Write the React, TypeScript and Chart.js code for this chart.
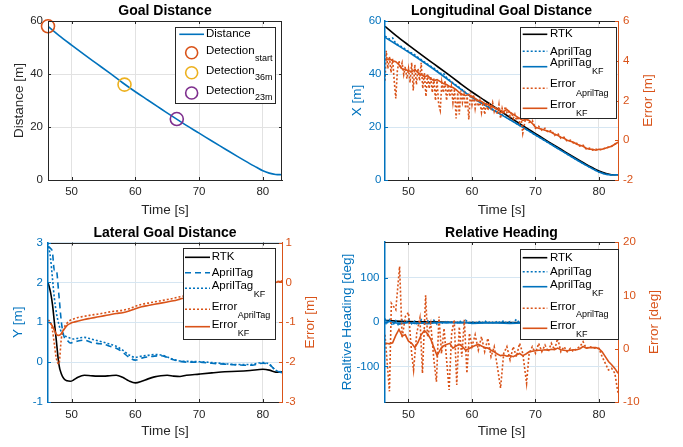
import React, { useEffect, useRef } from 'react';
import { Chart, registerables } from 'chart.js';
Chart.register(...registerables);

const FONT = '"Liberation Sans", Arial, Helvetica, sans-serif';
const BLUE = '#0072BD';
const ORANGE = '#D95319';
const YELLOW = '#EDB120';
const PURPLE = '#7E2F8E';
const BLACK = '#000000';
const AXIS = '#262626';
const GRID = '#e2e2e2';
const GRID_BLUE = '#d6e6f2';

// ---------- shared x axis ----------
const X_MIN = 46.3;
const X_MAX = 83;
const X_TICKS = [50, 60, 70, 80];

// ---------- time grids ----------
const T1 = [46.3, 48, 50, 52, 54, 56, 58, 60, 62, 64, 66, 68, 70, 72, 74, 76, 78, 79, 80, 81, 82, 83];
const T_HALF = [46.3, 46.5, 47, 47.5, 48, 48.5, 49, 49.5, 50, 50.5, 51, 51.5, 52, 52.5, 53, 53.5, 54, 54.5, 55, 55.5, 56, 56.5, 57, 57.5, 58, 58.5, 59, 59.5, 60, 60.5, 61, 61.5, 62, 62.5, 63, 63.5, 64, 64.5, 65, 65.5, 66, 66.5, 67, 67.5, 68, 68.5, 69, 69.5, 70, 70.5, 71, 71.5, 72, 72.5, 73, 73.5, 74, 74.5, 75, 75.5, 76, 76.5, 77, 77.5, 78, 78.5, 79, 79.5, 80, 80.5, 81, 81.5, 82, 82.5, 83];

// ---------- Panel 1: Goal Distance ----------
const P1_DISTANCE = [58.0, 54.6, 50.9, 47.3, 43.8, 40.3, 36.7, 33.3, 30.1, 26.9, 23.7, 20.6, 17.7, 14.7, 11.8, 8.9, 6.1, 4.8, 3.5, 2.6, 2.1, 2.0];
const P1_DETECT_T = [46.3, 58.3, 66.5];
const P1_DETECT_D = [58.0, 36.0, 23.0];
const P1_Y_TICKS = [0, 20, 40, 60];

// ---------- Panel 2: Longitudinal ----------
const P2_RTK = [58.0, 54.6, 50.9, 47.3, 43.8, 40.3, 36.7, 33.2, 30.0, 26.8, 23.6, 20.5, 17.5, 14.5, 11.6, 8.7, 5.9, 4.6, 3.4, 2.5, 2.0, 2.0];
const P2_KF = [53.8, 51.3, 48.3, 45.1, 41.8, 38.3, 34.7, 31.2, 28.3, 25.5, 22.7, 19.9, 17.0, 14.1, 11.2, 8.3, 5.5, 4.2, 3.0, 2.2, 1.9, 2.0];
const P2_AT_T = [46.3, 47, 47.5, 48, 49, 50, 50.5, 51, 52, 53, 54, 55, 55.5, 56, 57, 58, 59, 60, 61, 62, 63, 64, 65, 66, 67, 68, 70, 72, 74, 76, 78, 80, 81, 82, 83];
const P2_AT = [54.3, 53.2, 53.6, 51.6, 50.2, 48.5, 47.9, 47.2, 45.4, 43.7, 42.2, 40.2, 40.3, 38.6, 36.6, 34.9, 33.0, 31.3, 29.9, 28.4, 27.0, 25.6, 24.2, 22.8, 21.3, 19.9, 17.0, 14.1, 11.2, 8.3, 5.5, 3.0, 2.2, 1.9, 2.0];
const P2_ERR_AT_T = [46.3, 46.5, 46.75, 47.0, 47.25, 47.5, 47.75, 48.0, 48.25, 48.5, 48.75, 49.0, 49.25, 49.5, 49.75, 50.0, 50.25, 50.5, 50.75, 51.0, 51.25, 51.5, 51.75, 52.0, 52.25, 52.5, 52.75, 53.0, 53.25, 53.5, 53.75, 54.0, 54.25, 54.5, 54.75, 55.0, 55.25, 55.5, 55.75, 56.0, 56.25, 56.5, 56.75, 57.0, 57.25, 57.5, 57.75, 58.0, 58.25, 58.5, 58.75, 59.0, 59.25, 59.5, 59.75, 60.0, 60.25, 60.5, 60.75, 61.0, 61.25, 61.5, 61.75, 62.0, 62.25, 62.5, 62.75, 63.0, 63.25, 63.5, 63.75, 64.0, 64.25, 64.5, 64.75, 65.0, 65.25, 65.5, 65.75, 66.0, 66.25, 66.5, 66.75, 67.0, 67.25, 67.5, 67.75, 68.0, 68.5, 69, 69.5, 70, 70.5, 71, 71.5, 72, 72.5, 73, 73.5, 74, 74.5, 75, 75.5, 76, 76.5, 77, 77.5, 78, 78.5, 79, 79.5, 80, 80.5, 81, 81.5, 82, 82.5, 83];
const P2_ERR_AT = [3.0, 4.5, 3.6, 4.2, 3.4, 4.1, 3.0, 2.1, 3.5, 4.0, 3.6, 3.9, 3.3, 3.7, 3.1, 3.6, 2.9, 3.9, 2.5, 3.8, 2.8, 3.6, 3.0, 3.9, 2.6, 3.4, 2.2, 3.3, 2.6, 3.2, 2.4, 3.1, 2.0, 3.0, 1.8, 1.5, 2.9, 2.4, 3.0, 2.0, 2.8, 2.2, 2.7, 1.9, 2.6, 1.1, 2.4, 1.3, 2.5, 1.9, 2.3, 1.6, 2.2, 1.05, 2.4, 1.8, 2.3, 1.6, 2.1, 1.7, 2.0, 1.4, 1.9, 1.3, 1.9, 1.5, 1.8, 1.6, 1.9, 1.45, 1.7, 1.3, 1.8, 1.1, 1.6, 1.3, 1.7, 1.4, 1.5, 1.2, 1.4, 1.1, 1.3, 1.0, 1.2, 0.9, 1.1, 0.35, 1.2, 0.9, 1.0, 0.6, 0.7, 0.5, 0.6, 0.4, 0.5, 0.25, 0.35, 0.1, 0.15, -0.05, 0.0, -0.15, -0.15, -0.3, -0.25, -0.45, -0.4, -0.5, -0.45, -0.5, -0.45, -0.4, -0.35, -0.3, -0.2, -0.1];
const P2_ERR_KF = [4.1, 4.05, 4.1, 4.0, 3.95, 3.8, 3.6, 3.55, 3.5, 3.45, 3.55, 3.4, 3.3, 3.2, 3.25, 3.1, 3.0, 3.05, 2.95, 2.85, 2.8, 2.7, 2.65, 2.55, 2.4, 2.3, 2.25, 2.3, 2.2, 2.1, 2.0, 1.95, 1.85, 1.8, 1.7, 1.65, 1.55, 1.5, 1.45, 1.55, 1.4, 1.3, 1.2, 1.1, 1.0, 1.05, 1.0, 0.85, 0.65, 0.6, 0.55, 0.5, 0.45, 0.4, 0.3, 0.25, 0.15, 0.1, 0.0, -0.05, -0.1, -0.2, -0.25, -0.3, -0.4, -0.45, -0.45, -0.5, -0.45, -0.45, -0.4, -0.35, -0.3, -0.2, -0.1];
const P2_YL_TICKS = [0, 20, 40, 60];
const P2_YR_TICKS = [-2, 0, 2, 4, 6];

// ---------- Panel 3: Lateral ----------
const T3 = [46.3, 46.7, 47.0, 47.3, 47.6, 48.0, 48.4, 48.8, 49.3, 49.8, 50.3, 51, 52, 53, 54, 55, 56, 57, 58, 59, 60, 61, 62, 63, 64, 65, 66, 67, 68, 70, 72, 74, 76, 78, 80, 81, 82, 83];
const P3_RTK = [2.0, 1.75, 1.45, 1.0, 0.55, -0.05, -0.3, -0.42, -0.47, -0.48, -0.45, -0.38, -0.33, -0.34, -0.35, -0.35, -0.34, -0.33, -0.38, -0.47, -0.52, -0.48, -0.42, -0.37, -0.34, -0.33, -0.35, -0.36, -0.33, -0.3, -0.27, -0.24, -0.23, -0.21, -0.18, -0.2, -0.25, -0.24];
const P3_AT = [2.9, 2.85, 2.75, 2.3, 2.3, 1.7, 1.0, 0.65, 0.55, 0.48, 0.5, 0.53, 0.55, 0.5, 0.47, 0.45, 0.4, 0.35, 0.25, 0.12, 0.05, 0.1, 0.13, 0.15, 0.16, 0.12, 0.06, 0.02, 0.0, 0.0, -0.03, -0.05, -0.07, -0.08, -0.03, -0.06, -0.2, -0.27];
const P3_KF = [3.0, 2.6, 2.1, 1.6, 1.25, 0.95, 0.75, 0.68, 0.63, 0.6, 0.58, 0.6, 0.62, 0.58, 0.54, 0.5, 0.45, 0.4, 0.3, 0.18, 0.12, 0.15, 0.17, 0.19, 0.18, 0.13, 0.07, 0.03, 0.02, 0.01, -0.01, -0.04, -0.06, -0.06, -0.01, -0.05, -0.2, -0.25];
const P3_ERR_KF = [-1.0, -1.03, -1.1, -1.2, -1.3, -1.33, -1.28, -1.18, -1.08, -1.03, -1.0, -0.97, -0.93, -0.9, -0.87, -0.84, -0.81, -0.78, -0.76, -0.72, -0.66, -0.61, -0.58, -0.55, -0.52, -0.49, -0.46, -0.42, -0.38, -0.33, -0.28, -0.23, -0.18, -0.12, -0.07, -0.04, 0.0, 0.03];
const P3_ERR_AT = [-0.95, -1.0, -1.2, -1.55, -1.9, -2.05, -1.4, -1.15, -1.02, -0.95, -0.92, -0.88, -0.85, -0.82, -0.8, -0.77, -0.74, -0.72, -0.7, -0.66, -0.6, -0.55, -0.52, -0.49, -0.46, -0.43, -0.4, -0.36, -0.33, -0.29, -0.25, -0.2, -0.15, -0.1, -0.06, -0.03, 0.01, 0.04];
const P3_YL_TICKS = [-1, 0, 1, 2, 3];
const P3_YR_TICKS = [-3, -2, -1, 0, 1];

// ---------- Panel 4: Relative Heading ----------
const P4_RTK_T = [46.3, 48, 50, 55, 60, 65, 70, 75, 80, 81, 82, 83];
const P4_RTK = [4, 2, 1, 0, -1, -1, -1, -1.5, -2, -3, -3.5, -4];
const P4_KF_T = [46.3, 47, 48, 49, 50, 51, 52, 53, 54, 55, 56, 57, 58, 59, 60, 62, 64, 66, 68, 70, 72, 74, 76, 78, 80, 82, 83];
const P4_KF = [3, 1, -2, -3, -1, -3, -2, -4, -2, -1, -2, -1, -2, -1, -3, -2, -2, -3, -2, -2, -3, -2, -2, -3, -3, -3, -4];
const P4_AT = [8, -6, 5, -8, 3, -9, 4, -5, 6, -4, 2, -7, 5, -6, 3, -3, 4, -5, 2, -4, 3, -3, 2, -4, 3, -3, 4, -2, 1, -4, 2, -3, 3, -2, 1, -3, 2, -2, 3, -3, 1, -2, 6, -2, 2, -3, 1, -2, 2, -3, 1, -2, 2, -2, 1, -3, 1, -2, 1, -3, 0, -2, 1, -3, 0, -2, 0, -3, -1, -3, -2, -4, -3, -4, -5];
const P4_ERR_AT_T = [46.3, 47.0, 47.3, 48.0, 48.6, 49.0, 49.5, 50.0, 50.5, 50.8, 51.3, 51.8, 52.2, 52.7, 53.0, 53.5, 54.0, 54.4, 54.8, 55.2, 55.6, 56.0, 56.4, 56.8, 57.2, 57.6, 58.0, 58.4, 58.8, 59.2, 59.6, 60.0, 60.5, 61.0, 61.5, 62.0, 62.5, 63.0, 63.5, 64.0, 64.5, 65.0, 65.5, 66.0, 66.5, 67.0, 67.5, 68.0, 68.6, 69.0, 69.5, 70.0, 70.5, 71.0, 71.5, 72.0, 72.5, 73.0, 73.5, 74.0, 74.5, 75.0, 75.5, 76.0, 76.5, 77.0, 77.5, 78.0, 78.5, 79.0, 79.5, 80.0, 80.5, 81.0, 81.5, 82.0, 82.5, 83.0];
const P4_ERR_AT = [2.6, -8, 8.5, 7.3, 15.4, 2.0, 6.0, 6.8, -0.9, -4, 2.9, 5.75, -4.6, 10, 2.2, 4.75, -2.1, -6.2, 6, -0.9, 3.8, -2.1, -7.75, 2.9, 5.4, -6.8, 4.1, -1.5, 5.4, -4.6, 2.9, 0.4, 2.6, -0.25, 2.25, -0.56, 1.94, -1.5, 0.37, -3.4, -7.4, -0.87, 0.37, -2.1, 0.37, -1.5, 1.0, -0.87, -6.5, -0.87, 0.37, -0.87, 1.0, -0.56, 0.69, -0.56, 1.0, -0.25, 1.94, -0.56, 0.37, -0.56, 0.06, -0.56, 0.06, 0.37, 1.31, 0.06, 0.37, 0.19, 0.06, 0.06, -1.5, -2.75, -4, -3.7, -4.6, -8.3];
const P4_ERR_KF = [1.0, 1.0, 0.9, 1.1, 2.5, 3.6, 2.4, 2.6, 1.4, 1.0, 0.2, 1.2, 2.6, 3.4, 2.8, 1.8, 0.2, -1.3, -0.2, 0.5, 0.8, 1.0, 0.1, 0.5, 0.8, 0.4, -0.3, 0.0, 0.3, 0.6, 0.8, 0.5, 0.2, 0.1, -0.3, -0.6, -1.0, -1.3, -1.2, -1.4, -1.3, -1.5, -1.2, -0.9, -1.3, -1.0, -0.6, -0.5, -0.4, -0.3, -0.3, -0.2, -0.3, -0.1, -0.2, 0.1, -0.2, -0.3, -0.4, -0.3, -0.2, -0.2, 0.0, 0.4, 0.1, 0.2, 0.2, 0.2, 0.0, -0.6, -1.5, -2.4, -3.0, -3.7, -4.6];
const P4_YL_TICKS = [-100, 0, 100];
const P4_YR_TICKS = [-10, 0, 10, 20];

// ---------- layout / style ----------
const TICK_SIZE = 11.5;
const LABEL_SIZE = 13.5;
const TITLE_SIZE = 14;
const LH = 1.2;
const DOT = [2, 2];
const DASH = [6, 4];

const PANELS: any[] = [
  {
    canvas: { x: 0, y: 0, w: 341, h: 223 },
    area: { l: 48, t: 21, r: 282, b: 180 },
    title: 'Goal Distance', titleY: 11.5, xTitleY: 210, xTickPad: 4.8, xGrid: GRID,
    yL: { min: 0, max: 60, ticks: P1_Y_TICKS, title: 'Distance [m]', color: AXIS, titleX: 19, pad: 5, grid: GRID, bw: 1 },
    series: [
      { t: T1, v: P1_DISTANCE, color: BLUE, axis: 'yL', width: 1.6, smooth: true, order: 2 },
    ],
    markers: { t: P1_DETECT_T, v: P1_DETECT_D, colors: [ORANGE, YELLOW, PURPLE] },
    legend: {
      box: { l: 175, t: 27, r: 275, b: 103 }, x0: 179.3, x1: 204, textX: 206,
      rows: [
        { label: 'Distance', color: BLUE, lineY: 34.3, textY: 34.3 },
        { label: 'Detection', sub: 'start', color: ORANGE, marker: true, lineY: 52.7, textY: 51.3, subY: 58.3 },
        { label: 'Detection', sub: '36m', color: YELLOW, marker: true, lineY: 72.7, textY: 71.3, subY: 77.7 },
        { label: 'Detection', sub: '23m', color: PURPLE, marker: true, lineY: 93, textY: 91, subY: 97.7 },
      ],
    },
  },
  {
    canvas: { x: 336, y: 0, w: 347, h: 223 },
    area: { l: 385, t: 21, r: 618, b: 180 },
    title: 'Longitudinal Goal Distance', titleY: 11.5, xTitleY: 210, xTickPad: 4.8, xGrid: GRID,
    yL: { min: 0, max: 60, ticks: P2_YL_TICKS, title: 'X [m]', color: BLUE, titleX: 357, pad: 3.5, grid: GRID_BLUE, bw: 1.5 },
    yR: { min: -2, max: 6, ticks: P2_YR_TICKS, title: 'Error [m]', color: ORANGE, titleX: 648.3, pad: 5 },
    series: [
      { t: T_HALF, v: P2_ERR_KF, color: ORANGE, axis: 'yR', width: 1.6, smooth: false, order: 0 },
      { t: P2_ERR_AT_T, v: P2_ERR_AT, color: ORANGE, dash: DOT, axis: 'yR', width: 1.6, smooth: false, order: 1 },
      { t: T1, v: P2_KF, color: BLUE, axis: 'yL', width: 1.6, smooth: true, order: 2 },
      { t: P2_AT_T, v: P2_AT, color: BLUE, dash: DOT, axis: 'yL', width: 1.6, smooth: false, order: 3 },
      { t: T1, v: P2_RTK, color: BLACK, axis: 'yL', width: 1.6, smooth: true, order: 4 },
    ],
    legend: {
      box: { l: 520, t: 27, r: 616, b: 118 }, x0: 522.7, x1: 547.3, textX: 550,
      rows: [
        { label: 'RTK', color: BLACK, lineY: 34.3, textY: 34.3 },
        { label: 'AprilTag', color: BLUE, dash: DOT, lineY: 51.3, textY: 51.7 },
        { label: 'AprilTag', sub: 'KF', color: BLUE, lineY: 66.7, textY: 63.3, subY: 71.7 },
        { label: 'Error', sub: 'AprilTag', color: ORANGE, dash: DOT, lineY: 88.3, textY: 84.3, subY: 93.3 },
        { label: 'Error', sub: 'KF', color: ORANGE, lineY: 108.3, textY: 105, subY: 113.3 },
      ],
    },
  },
  {
    canvas: { x: 0, y: 223, w: 341, h: 224 },
    area: { l: 48, t: 242.5, r: 282, b: 402 },
    title: 'Lateral Goal Distance', titleY: 233.3, xTitleY: 431.5, xTickPad: 6, xGrid: GRID,
    yL: { min: -1, max: 3, ticks: P3_YL_TICKS, title: 'Y [m]', color: BLUE, titleX: 18, pad: 5, grid: GRID_BLUE, bw: 1.5 },
    yR: { min: -3, max: 1, ticks: P3_YR_TICKS, title: 'Error [m]', color: ORANGE, titleX: 310.7, pad: 3.5 },
    series: [
      { t: T3, v: P3_ERR_KF, color: ORANGE, axis: 'yR', width: 1.6, smooth: true, order: 0 },
      { t: T3, v: P3_ERR_AT, color: ORANGE, dash: DOT, axis: 'yR', width: 1.6, smooth: true, order: 1 },
      { t: T3, v: P3_KF, color: BLUE, dash: DOT, axis: 'yL', width: 1.6, smooth: true, order: 2 },
      { t: T3, v: P3_AT, color: BLUE, dash: DASH, axis: 'yL', width: 1.6, smooth: true, order: 3 },
      { t: T3, v: P3_RTK, color: BLACK, axis: 'yL', width: 1.6, smooth: true, order: 4 },
    ],
    legend: {
      box: { l: 183, t: 248.3, r: 275.3, b: 339.3 }, x0: 185, x1: 210, textX: 211.7,
      rows: [
        { label: 'RTK', color: BLACK, lineY: 257.3, textY: 257.3 },
        { label: 'AprilTag', color: BLUE, dash: DASH, lineY: 272.7, textY: 272.7 },
        { label: 'AprilTag', sub: 'KF', color: BLUE, dash: DOT, lineY: 288.3, textY: 286.3, subY: 294.3 },
        { label: 'Error', sub: 'AprilTag', color: ORANGE, dash: DOT, lineY: 309.3, textY: 307, subY: 315.3 },
        { label: 'Error', sub: 'KF', color: ORANGE, lineY: 326.7, textY: 325, subY: 333.3 },
      ],
    },
  },
  {
    canvas: { x: 336, y: 223, w: 347, h: 224 },
    area: { l: 385, t: 242, r: 618, b: 402 },
    title: 'Relative Heading', titleY: 233.3, xTitleY: 431.5, xTickPad: 6, xGrid: GRID,
    yL: { min: -180, max: 180, ticks: P4_YL_TICKS, title: 'Realtive Heading [deg]', color: BLUE, titleX: 347, pad: 5.5, grid: GRID_BLUE, bw: 1.5 },
    yR: { min: -10, max: 20, ticks: P4_YR_TICKS, title: 'Error [deg]', color: ORANGE, titleX: 654, pad: 5 },
    series: [
      { t: T_HALF, v: P4_ERR_KF, color: ORANGE, axis: 'yR', width: 1.6, smooth: false, order: 0 },
      { t: P4_ERR_AT_T, v: P4_ERR_AT, color: ORANGE, dash: DOT, axis: 'yR', width: 1.6, smooth: false, order: 1 },
      { t: P4_KF_T, v: P4_KF, color: BLUE, axis: 'yL', width: 1.6, smooth: false, order: 2 },
      { t: T_HALF, v: P4_AT, color: BLUE, dash: DOT, axis: 'yL', width: 1.6, smooth: false, order: 3 },
      { t: P4_RTK_T, v: P4_RTK, color: BLACK, axis: 'yL', width: 1.6, smooth: true, order: 4 },
    ],
    legend: {
      box: { l: 520, t: 249, r: 618, b: 339.3 }, x0: 522.7, x1: 547.3, textX: 550,
      rows: [
        { label: 'RTK', color: BLACK, lineY: 257.7, textY: 257.7 },
        { label: 'AprilTag', color: BLUE, dash: DOT, lineY: 271.7, textY: 271.7 },
        { label: 'AprilTag', sub: 'KF', color: BLUE, lineY: 286.7, textY: 285, subY: 293.3 },
        { label: 'Error', sub: 'AprilTag', color: ORANGE, dash: DOT, lineY: 308.3, textY: 306.7, subY: 315 },
        { label: 'Error', sub: 'KF', color: ORANGE, lineY: 328.3, textY: 326, subY: 334.3 },
      ],
    },
  },
];

function makeFramePlugin(p: any) {
  const cx = p.canvas.x;
  const cy = p.canvas.y;
  return {
    id: 'matlabFrame',
    afterDraw(chart: any) {
      const ctx = chart.ctx as CanvasRenderingContext2D;
      const ca = chart.chartArea;
      const xs = chart.scales.x;
      const yl = chart.scales.yL;
      const yr = chart.scales.yR;
      ctx.save();
      ctx.lineWidth = 1;
      ctx.setLineDash([]);
      ctx.strokeStyle = AXIS;
      ctx.beginPath();
      ctx.moveTo(ca.left, Math.round(ca.top) + 0.5);
      ctx.lineTo(ca.right, Math.round(ca.top) + 0.5);
      if (!p.yR) {
        ctx.moveTo(Math.round(ca.right) - 0.5, ca.top);
        ctx.lineTo(Math.round(ca.right) - 0.5, ca.bottom);
      }
      ctx.stroke();
      const TL = 3;
      ctx.beginPath();
      ctx.strokeStyle = AXIS;
      for (const v of X_TICKS) {
        const px = Math.round(xs.getPixelForValue(v)) + 0.5;
        ctx.moveTo(px, ca.bottom);
        ctx.lineTo(px, ca.bottom - TL);
        ctx.moveTo(px, ca.top);
        ctx.lineTo(px, ca.top + TL);
      }
      if (!p.yR) {
        for (const v of p.yL.ticks) {
          const py = Math.round(yl.getPixelForValue(v)) + 0.5;
          ctx.moveTo(ca.right, py);
          ctx.lineTo(ca.right - TL, py);
        }
      }
      ctx.stroke();
      ctx.beginPath();
      ctx.strokeStyle = p.yL.color;
      for (const v of p.yL.ticks) {
        const py = Math.round(yl.getPixelForValue(v)) + 0.5;
        ctx.moveTo(ca.left, py);
        ctx.lineTo(ca.left + TL, py);
      }
      ctx.stroke();
      if (p.yR) {
        ctx.beginPath();
        ctx.strokeStyle = p.yR.color;
        for (const v of p.yR.ticks) {
          const py = Math.round(yr.getPixelForValue(v)) + 0.5;
          ctx.moveTo(ca.right, py);
          ctx.lineTo(ca.right - TL, py);
        }
        ctx.stroke();
        ctx.save();
        ctx.translate(p.yR.titleX - cx, (ca.top + ca.bottom) / 2);
        ctx.rotate(-Math.PI / 2);
        ctx.fillStyle = p.yR.color;
        ctx.font = `${LABEL_SIZE}px ${FONT}`;
        ctx.textAlign = 'center';
        ctx.textBaseline = 'middle';
        ctx.fillText(p.yR.title, 0, 0);
        ctx.restore();
      }
      const lg = p.legend;
      const bl = Math.round(lg.box.l - cx) + 0.5;
      const bt = Math.round(lg.box.t - cy) + 0.5;
      const bw = Math.round(lg.box.r - lg.box.l);
      const bh = Math.round(lg.box.b - lg.box.t);
      ctx.fillStyle = '#ffffff';
      ctx.fillRect(bl, bt, bw, bh);
      ctx.strokeStyle = AXIS;
      ctx.lineWidth = 1;
      ctx.strokeRect(bl, bt, bw, bh);
      for (const row of lg.rows) {
        const ly = row.lineY - cy;
        ctx.strokeStyle = row.color;
        ctx.lineWidth = 1.6;
        if (row.marker) {
          ctx.setLineDash([]);
          ctx.beginPath();
          ctx.arc((lg.x0 + lg.x1) / 2 - cx, ly, 6, 0, Math.PI * 2);
          ctx.stroke();
        } else {
          ctx.setLineDash(row.dash || []);
          ctx.beginPath();
          ctx.moveTo(lg.x0 - cx, ly);
          ctx.lineTo(lg.x1 - cx, ly);
          ctx.stroke();
          ctx.setLineDash([]);
        }
        ctx.fillStyle = '#000000';
        ctx.textAlign = 'left';
        ctx.textBaseline = 'middle';
        ctx.font = `${TICK_SIZE}px ${FONT}`;
        ctx.fillText(row.label, lg.textX - cx, row.textY - cy);
        if (row.sub) {
          const w = ctx.measureText(row.label).width;
          ctx.font = `9px ${FONT}`;
          ctx.fillText(row.sub, lg.textX - cx + w + 0.5, row.subY - cy);
        }
      }
      ctx.restore();
    },
  };
}

function buildChart(canvas: HTMLCanvasElement, p: any) {
  const cx = p.canvas.x;
  const cy = p.canvas.y;
  const yLW = p.area.l - cx;
  const rightSpace = cx + p.canvas.w - p.area.r;
  const xH = cy + p.canvas.h - p.area.b;
  const topH = p.area.t - cy;
  const titleLH = TITLE_SIZE * LH;
  const labelLH = LABEL_SIZE * LH;
  const titleTop = p.titleY - cy - titleLH / 2;
  const titleBottom = topH - titleLH - titleTop;

  const datasets: any[] = p.series.map((s: any) => ({
    type: 'line',
    data: s.t.map((x: number, i: number) => ({ x, y: s.v[i] })),
    borderColor: s.color,
    backgroundColor: s.color,
    borderWidth: s.width,
    borderDash: s.dash || [],
    pointRadius: 0,
    pointHoverRadius: 0,
    fill: false,
    yAxisID: s.axis,
    xAxisID: 'x',
    tension: 0,
    cubicInterpolationMode: s.smooth ? 'monotone' : 'default',
    order: s.order,
  }));
  if (p.markers) {
    datasets.push({
      type: 'line',
      data: p.markers.t.map((x: number, i: number) => ({ x, y: p.markers.v[i] })),
      showLine: false,
      pointRadius: 6.5,
      pointStyle: 'circle',
      pointBorderColor: p.markers.colors,
      pointBackgroundColor: 'rgba(0,0,0,0)',
      pointBorderWidth: 1.6,
      yAxisID: 'yL',
      xAxisID: 'x',
      clip: false,
      order: -1,
    });
  }

  const tickFont = { family: FONT, size: TICK_SIZE, lineHeight: LH };
  const labelFont = { family: FONT, size: LABEL_SIZE, lineHeight: LH };

  const scales: any = {
    x: {
      type: 'linear',
      position: 'bottom',
      min: X_MIN,
      max: X_MAX,
      afterBuildTicks: (s: any) => { s.ticks = X_TICKS.map((v) => ({ value: v })); },
      afterFit: (s: any) => { s.height = xH; },
      grid: { color: p.xGrid, drawTicks: false, lineWidth: 1 },
      border: { color: AXIS, width: 1, z: 1 },
      ticks: { color: AXIS, font: tickFont, padding: p.xTickPad, maxRotation: 0, autoSkip: false, callback: (v: any) => String(v) },
      title: { display: true, text: 'Time [s]', color: AXIS, font: labelFont, padding: { top: 0, bottom: cy + p.canvas.h - p.xTitleY - labelLH / 2 } },
    },
    yL: {
      type: 'linear',
      position: 'left',
      min: p.yL.min,
      max: p.yL.max,
      afterBuildTicks: (s: any) => { s.ticks = p.yL.ticks.map((v: number) => ({ value: v })); },
      afterFit: (s: any) => { s.width = yLW; },
      grid: { color: p.yL.grid, drawTicks: false, lineWidth: 1 },
      border: { color: p.yL.color, width: p.yL.bw, z: 1 },
      ticks: { color: p.yL.color, font: tickFont, padding: p.yL.pad, autoSkip: false, callback: (v: any) => String(v) },
      title: { display: true, text: p.yL.title, color: p.yL.color, font: labelFont, padding: { top: p.yL.titleX - cx - labelLH / 2, bottom: 0 } },
    },
  };
  if (p.yR) {
    scales.yR = {
      type: 'linear',
      position: 'right',
      min: p.yR.min,
      max: p.yR.max,
      afterBuildTicks: (s: any) => { s.ticks = p.yR.ticks.map((v: number) => ({ value: v })); },
      afterFit: (s: any) => { s.width = rightSpace; },
      grid: { drawOnChartArea: false, drawTicks: false },
      border: { color: p.yR.color, width: 1, z: 1 },
      ticks: { color: p.yR.color, font: tickFont, padding: p.yR.pad, autoSkip: false, callback: (v: any) => String(v) },
      title: { display: false },
    };
  }

  return new Chart(canvas, {
    type: 'line',
    data: { datasets },
    options: {
      responsive: false,
      maintainAspectRatio: false,
      animation: false,
      devicePixelRatio: 1,
      events: [],
      layout: { padding: { left: 0, top: 0, bottom: 0, right: p.yR ? 0 : rightSpace } },
      scales,
      plugins: {
        legend: { display: false },
        tooltip: { enabled: false },
        title: {
          display: true,
          text: p.title,
          fullSize: false,
          color: '#000000',
          font: { family: FONT, size: TITLE_SIZE, weight: 'bold', lineHeight: LH },
          padding: { top: titleTop, bottom: titleBottom },
        },
      },
    } as any,
    plugins: [makeFramePlugin(p)],
  } as any);
}

function Panel({ cfg }: { cfg: any }) {
  const ref = useRef<HTMLCanvasElement>(null);
  useEffect(() => {
    if (!ref.current) return;
    const chart = buildChart(ref.current, cfg);
    return () => chart.destroy();
  }, [cfg]);
  return (
    <canvas
      ref={ref}
      width={cfg.canvas.w}
      height={cfg.canvas.h}
      style={{ position: 'absolute', left: cfg.canvas.x, top: cfg.canvas.y, width: cfg.canvas.w, height: cfg.canvas.h }}
    />
  );
}

export default function App() {
  return (
    <div style={{ position: 'fixed', left: 0, top: 0, width: 683, height: 447, background: '#ffffff', overflow: 'hidden' }}>
      {PANELS.map((p, i) => (
        <Panel key={i} cfg={p} />
      ))}
    </div>
  );
}
